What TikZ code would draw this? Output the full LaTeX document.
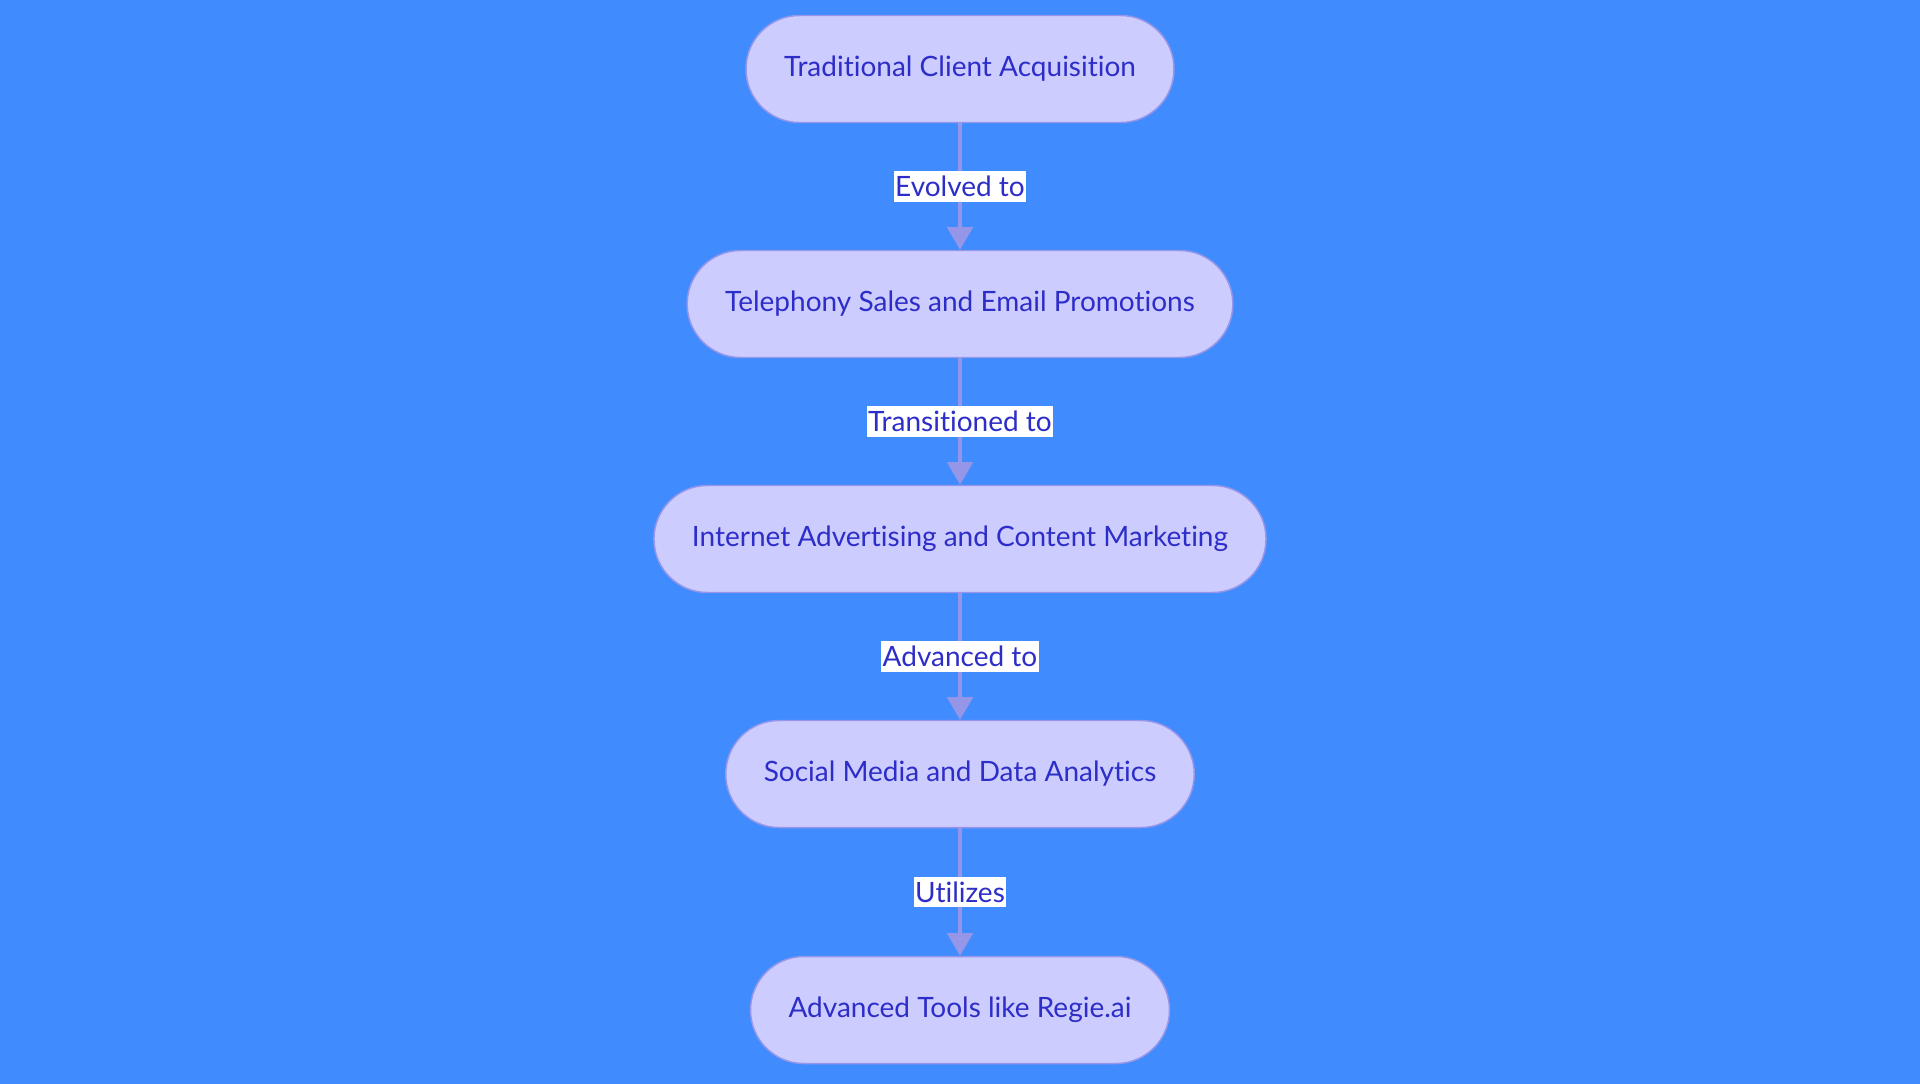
\documentclass[tikz,border=0pt]{standalone}
\usepackage{fontspec}
\setmainfont{Lato}[Ligatures={NoCommon,NoRare}]
\usetikzlibrary{arrows.meta}
\definecolor{bgblue}{RGB}{64,140,255}
\definecolor{stepfill}{RGB}{204,204,255}
\definecolor{stepline}{RGB}{150,150,232}
\definecolor{steptext}{RGB}{45,45,200}

\begin{document}
\begin{tikzpicture}[x=0.75pt,y=-0.75pt,
    stepnode/.style={draw=stepline,fill=stepfill,line width=1.1pt,
      rounded corners=40pt,minimum height=80.25pt,inner xsep=28.5pt,
      text=steptext,font=\fontsize{21}{24}\selectfont},
    flow/.style={draw=stepline,line width=3pt,
      -{Triangle[width=19pt,length=17pt]}},
    edgelabel/.style={fill=white,text=steptext,inner xsep=1pt,inner ysep=3.5pt,
      font=\fontsize{21}{24}\selectfont}]
  \useasboundingbox (0,0) rectangle (1920,1083);
  \fill[bgblue,overlay] (-5,-5) rectangle (1925,1090);
  \node (T) at (960,69) [stepnode] {Traditional Client Acquisition}; % top
  \node (S) at (960,304) [stepnode] {Telephony Sales and Email Promotions};
  \node (I) at (960,539) [stepnode] {Internet Advertising and Content Marketing};
  \node (M) at (960,774) [stepnode] {Social Media and Data Analytics};
  \node (A) at (960,1010) [stepnode] {Advanced Tools like Regie.ai}; % bottom
  \draw[flow] (T) to node[edgelabel] {Evolved to} (S);
  \draw[flow] (S) to node[edgelabel] {Transitioned to} (I);
  \draw[flow] (I) to node[edgelabel] {Advanced to} (M);
  \draw[flow] (M) to node[edgelabel] {Utilizes} (A);
\end{tikzpicture}
\end{document}
